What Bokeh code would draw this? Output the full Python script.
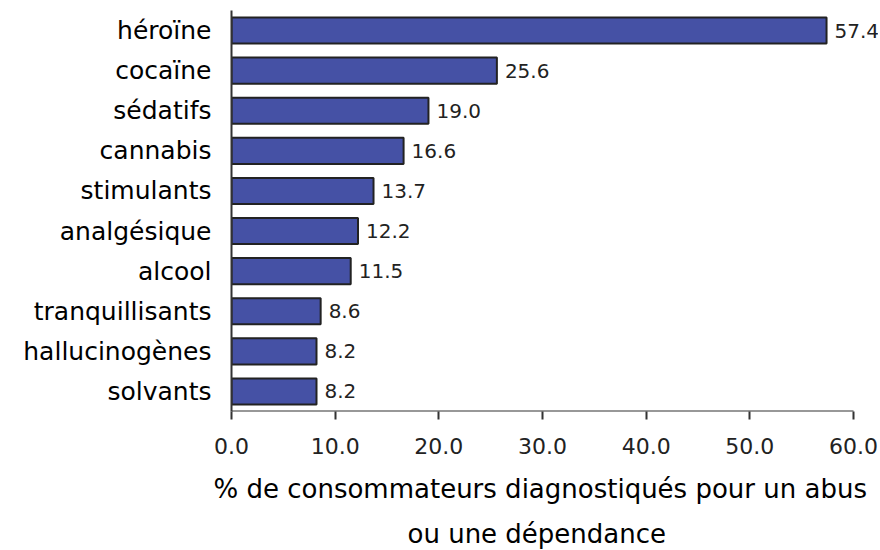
from bokeh.plotting import figure
from bokeh.models import (FactorRange, Range1d, ColumnDataSource, FixedTicker,
                          CustomJSTickFormatter, LabelSet, Title)
from bokeh.core.properties import value
from bokeh.embed import file_html
from bokeh.resources import INLINE

categories = ["héroïne", "cocaïne", "sédatifs", "cannabis", "stimulants",
              "analgésique", "alcool", "tranquillisants", "hallucinogènes", "solvants"]
values = [57.4, 25.6, 19.0, 16.6, 13.7, 12.2, 11.5, 8.6, 8.2, 8.2]
x_ticks = [0, 10, 20, 30, 40, 50, 60]
x_title_lines = ["% de consommateurs diagnostiqués pour un abus", "ou une dépendance"]

FONT = "DejaVu Sans"
X_MAX = 60
# extra room to the right of 60 so the "57.4" label is not clipped
X_END = X_MAX + 25 / (622 / X_MAX)

src = ColumnDataSource(dict(cat=categories, val=values,
                            lab=["%.1f" % v for v in values]))

p = figure(width=878, height=550, output_backend="svg", toolbar_location=None,
           y_range=FactorRange(factors=categories[::-1], range_padding=0),
           x_range=Range1d(0, X_END),
           min_border_left=231, min_border_right=0, min_border_top=10, min_border_bottom=138)

p.hbar(y="cat", right="val", left=0, height=0.65, source=src,
       fill_color="#4551A5", line_color="#222222", line_width=2)

# x axis line drawn only from 0 to 60
p.segment(x0=[0], x1=[X_MAX], y0=[0], y1=[0], line_color="#333333", line_width=2)

labels = LabelSet(x="val", y="cat", text="lab", source=src, x_offset=8,
                  text_baseline="middle", text_align="left",
                  text_font=value(FONT), text_font_size=value("20px"),
                  text_color="#222222")
p.add_layout(labels)

p.outline_line_color = None
p.xgrid.visible = False
p.ygrid.visible = False
p.background_fill_color = "white"

xa = p.xaxis[0]
xa.ticker = FixedTicker(ticks=x_ticks)
xa.formatter = CustomJSTickFormatter(code="return tick.toFixed(1);")
xa.axis_line_color = None
xa.major_tick_line_color = "#333333"
xa.major_tick_line_width = 2
xa.major_tick_in = 0
xa.major_tick_out = 8
xa.minor_tick_line_color = None
xa.major_label_text_font = FONT
xa.major_label_text_font_size = "22px"
xa.major_label_text_color = "#222222"
xa.major_label_standoff = 18

ya = p.yaxis[0]
ya.axis_line_color = "#333333"
ya.axis_line_width = 2
ya.major_tick_line_color = None
ya.minor_tick_line_color = None
ya.major_label_text_font = FONT
ya.major_label_text_font_size = "25px"
ya.major_label_text_color = "black"
ya.major_label_standoff = 14

t1 = Title(text=x_title_lines[0], align="left", text_font=FONT, text_font_size="26px",
           text_font_style="normal", text_color="black", standoff=30, offset=-18)
t2 = Title(text=x_title_lines[1], align="left", text_font=FONT, text_font_size="26px",
           text_font_style="normal", text_color="black", standoff=0, offset=176,
           vertical_align="top", text_line_height=1.0)
p.add_layout(t1, "below")
p.add_layout(t2, "below")

open("out.html", "w").write(file_html(p, INLINE))
